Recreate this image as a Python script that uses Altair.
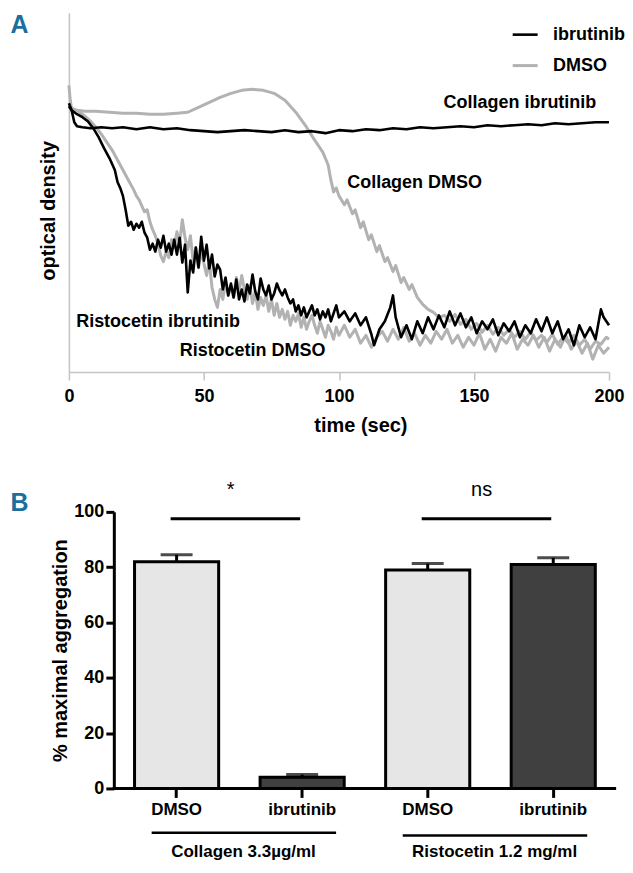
import altair as alt
import pandas as pd

FONT = "Liberation Sans, Arial, sans-serif"
LETTER_COLOR = "#1b6f9b"

# ---------------- Panel A: aggregation traces (arbitrary optical density units) ----------------
t_col_ibr = [0, 1, 2, 3, 5, 8, 12, 16, 20, 25, 30, 35, 40, 45, 50, 55, 60, 65, 70, 75, 80, 85, 90,
             95, 100, 105, 110, 115, 120, 125, 130, 135, 140, 145, 150, 155, 160, 165, 170, 175,
             180, 185, 190, 195, 200]
od_col_ibr = [270, 263, 251, 247, 246, 245, 246, 245, 246, 244, 246, 244, 245, 243, 242, 241, 242,
              243, 242, 241, 243, 241, 242, 240, 243, 242, 244, 243, 245, 244, 246, 245, 246, 247,
              246, 248, 247, 248, 249, 248, 250, 249, 250, 251, 251]

t_col_dmso = [0, 0.5, 1, 3, 6, 10, 15, 20, 25, 30, 35, 40, 44, 48, 52, 56, 60, 64, 68, 72, 76, 80,
              84, 88, 91, 94, 96, 97, 98, 99, 100, 102, 103, 105, 106, 108, 109, 111, 112, 114, 115,
              117, 118, 120, 121, 123, 124, 126, 127, 129, 131, 133, 135, 137, 139, 141, 143, 145,
              147, 149, 151, 153, 155, 157, 159, 161, 163, 165, 167, 169, 171, 173, 175, 177, 179,
              181, 183, 185, 187, 189, 191, 193, 195, 197, 199, 200]
od_col_dmso = [288, 273, 264, 263, 262, 262, 261, 260, 260, 259, 259, 260, 261, 266, 271, 276, 280,
               283, 284, 283, 280, 273, 261, 246, 233, 221, 208, 193, 181, 185, 177, 168, 173, 159,
               163, 145, 151, 133, 138, 121, 127, 111, 115, 101, 107, 90, 95, 83, 88, 75, 68, 63,
               60, 55, 57, 51, 58, 48, 53, 43, 49, 40, 47, 38, 45, 37, 43, 35, 41, 33, 40, 32, 37,
               30, 38, 28, 35, 29, 37, 27, 33, 23, 31, 28, 35, 33]

t_ris_ibr = [0, 1, 3, 5, 7, 9, 11, 13, 15, 17, 18, 19,
             20, 21, 22, 23, 24, 25, 26, 27, 28, 29,
             30, 31, 32, 33, 34, 35, 36, 37, 38, 39,
             40, 41, 42, 43, 44, 45, 46, 47, 48, 49,
             50, 51, 52, 53, 54, 55, 56, 57, 58, 59,
             60, 61, 62, 63, 64, 65, 66, 67, 68, 69,
             70, 71, 72, 73, 74, 75, 76, 77, 78, 79,
             80, 81, 82, 83, 84, 85, 86, 87, 88, 89,
             90, 91, 92, 93, 94, 95, 96, 97, 98, 99,
             100, 102, 104, 106, 108, 110, 112, 113, 115, 117, 119,
             120, 121, 123, 125, 127, 129, 131, 133, 135, 137, 139,
             141, 143, 145, 147, 149, 151, 153, 155, 157, 159,
             161, 163, 165, 167, 169, 171, 173, 175, 177, 179,
             181, 183, 185, 187, 189, 191, 193, 195, 197, 198, 200]
od_ris_ibr = [267, 263, 259, 256, 252, 245, 236, 225, 215, 203, 191, 185,
              177, 163, 147, 151, 143, 149, 145, 151, 140, 135,
              123, 129, 121, 133, 125, 137, 121, 129, 118, 133,
              118, 135, 110, 128, 80, 112, 100, 125, 105, 136,
              112, 128, 104, 118, 96, 108, 103, 83, 95, 77,
              89, 75, 93, 73, 83, 71, 88, 79, 98, 81,
              73, 94, 83, 77, 87, 73, 79, 89, 82, 77,
              83, 75, 69, 73, 61, 67, 57, 65, 55, 61,
              67, 57, 63, 53, 61, 55, 63, 51, 59, 67,
              55, 61, 51, 59, 47, 55, 38, 27, 43, 51, 65,
              77, 55, 35, 47, 33, 51, 39, 55, 43, 57, 45,
              61, 47, 59, 45, 55, 39, 51, 43, 53, 37,
              49, 41, 51, 35, 47, 39, 53, 41, 55, 39,
              51, 33, 43, 27, 47, 35, 45, 33, 63, 55, 47]

t_ris_dmso = [0, 2, 4, 6, 8, 10, 12, 14, 16, 18, 20, 22, 24,
              25, 26, 27, 28, 29, 30, 31, 32, 33, 34, 35, 36, 37, 38, 39,
              40, 41, 42, 43, 44, 45, 46, 47, 48, 49,
              50, 51, 52, 53, 54, 55, 56, 57, 58, 59,
              60, 61, 62, 63, 64, 65, 66, 67, 68, 69,
              70, 71, 72, 73, 74, 75, 76, 77, 78, 79,
              80, 81, 82, 83, 84, 85, 86, 87, 88, 89,
              90, 91, 92, 93, 94, 95, 96, 97, 98, 99,
              100, 102, 104, 106, 108, 110, 112, 114, 116, 118,
              120, 122, 124, 126, 128, 130, 132, 134, 136, 138,
              140, 142, 144, 146, 148, 150, 152, 154, 156, 158,
              160, 162, 164, 166, 168, 170, 172, 174, 176, 178,
              180, 182, 184, 186, 188, 190, 192, 194, 196, 198, 200]
od_ris_dmso = [267, 264, 261, 257, 252, 246, 239, 231, 223, 213, 203, 193, 183,
               177, 173, 167, 161, 163, 151, 143, 137, 129, 117, 111, 121, 115, 133, 125,
               141, 129, 153, 135, 123, 137, 111, 125, 105, 123,
               109, 97, 111, 85, 73, 65, 83, 73, 91, 77,
               87, 75, 95, 81, 97, 83, 73, 87, 69, 81,
               63, 75, 67, 77, 61, 73, 57, 69, 55, 63,
               53, 61, 47, 57, 51, 59, 45, 55, 43, 51,
               57, 47, 39, 51, 43, 35, 47, 41, 33, 45,
               37, 47, 35, 43, 29, 37, 25, 35, 41, 31,
               43, 33, 45, 31, 39, 27, 37, 29, 41, 33,
               43, 29, 37, 25, 35, 27, 39, 23, 33, 21,
               35, 29, 39, 23, 33, 27, 37, 25, 35, 21,
               33, 25, 37, 23, 31, 19, 29, 13, 27, 19, 25]

traces = [
    ("Collagen DMSO", "DMSO", t_col_dmso, od_col_dmso),
    ("Ristocetin DMSO", "DMSO", t_ris_dmso, od_ris_dmso),
    ("Collagen ibrutinib", "ibrutinib", t_col_ibr, od_col_ibr),
    ("Ristocetin ibrutinib", "ibrutinib", t_ris_ibr, od_ris_ibr),
]
dfA = pd.concat(
    [pd.DataFrame({"t": t, "od": od, "trace": name, "treatment": trt}) for name, trt, t, od in traces],
    ignore_index=True,
)

# trace annotations (time, od)
ann_text = ["Collagen ibrutinib", "Collagen DMSO", "Ristocetin ibrutinib", "Ristocetin DMSO"]
ann_t = [167, 128, 33, 68]
ann_od = [270, 190, 50, 21]
dfAnn = pd.DataFrame({"label": ann_text, "t": ann_t, "od": ann_od})

xA = alt.X("t:Q", scale=alt.Scale(domain=[0, 200], nice=False),
           axis=alt.Axis(values=[0, 50, 100, 150, 200], title="time (sec)", grid=False,
                         domainColor="#c4c4c4", domainWidth=1.5, tickColor="#c4c4c4",
                         tickWidth=1.5, tickSize=8, labelFont=FONT, labelFontSize=18,
                         labelFontWeight="bold", labelColor="black", labelPadding=7,
                         labelFlush=False, titleFont=FONT, titleFontSize=20,
                         titleFontWeight="bold", titleColor="black", titleX=292, titleY=59,
                         titleBaseline="alphabetic"))
yA = alt.Y("od:Q", scale=alt.Scale(domain=[0, 361], nice=False),
           axis=alt.Axis(title="optical density", labels=False, ticks=False, grid=False,
                         domainColor="#c4c4c4", domainWidth=1.5, titleFont=FONT,
                         titleFontSize=20, titleFontWeight="bold", titleColor="black",
                         titleX=-20, titleY=198, titleAngle=270, titleBaseline="middle"))

linesA = alt.Chart(dfA).mark_line(strokeJoin="round").encode(
    x=xA,
    y=yA,
    color=alt.Color("treatment:N",
                    scale=alt.Scale(domain=["ibrutinib", "DMSO"], range=["#000000", "#b2b2b2"]),
                    legend=alt.Legend(orient="none", legendX=443, legendY=8, title=None,
                                      symbolType="stroke", symbolSize=625, symbolStrokeWidth=3,
                                      labelFont=FONT, labelFontSize=18, labelFontWeight="bold",
                                      labelColor="black", rowPadding=8, padding=0,
                                      labelOffset=14)),
    strokeWidth=alt.StrokeWidth("treatment:N",
                                scale=alt.Scale(domain=["ibrutinib", "DMSO"], range=[2.6, 3.0]),
                                legend=None),
    detail="trace:N",
)

annA = alt.Chart(dfAnn).mark_text(font=FONT, fontSize=18, fontWeight="bold", color="black",
                                  align="center", baseline="middle").encode(
    x=alt.X("t:Q"), y=alt.Y("od:Q"), text="label:N")

letterA = alt.Chart(pd.DataFrame({"letter": ["A"]})).mark_text(
    font=FONT, fontSize=25, fontWeight="bold", color=LETTER_COLOR, align="center",
    baseline="top").encode(x=alt.value(-49.5), y=alt.value(0), text="letter:N")

panelA = alt.layer(linesA, annA, letterA).properties(width=541, height=360)

# ---------------- Panel B: bar chart ----------------
cats = ["Collagen|DMSO", "Collagen|ibrutinib", "Ristocetin|DMSO", "Ristocetin|ibrutinib"]
mean_agg = [82, 4, 79, 81]
sem_agg = [2.5, 1.0, 2.3, 2.4]
bar_fill = ["#e6e6e6", "#404040", "#e6e6e6", "#404040"]

dfB = pd.DataFrame({"cat": cats, "mean": mean_agg, "sem": sem_agg, "fill": bar_fill})
dfB["hi"] = dfB["mean"] + dfB["sem"]

groups = ["Collagen 3.3\u00b5g/ml", "Ristocetin 1.2 mg/ml"]
group_first = ["Collagen|DMSO", "Ristocetin|DMSO"]
group_last = ["Collagen|ibrutinib", "Ristocetin|ibrutinib"]
sig_text = ["*", "ns"]
sig_line_y = [97.5, 97.5]
sig_text_y = [108, 108]
underline_y = [-16, -17]
group_label_y = [-23, -23]
dfG = pd.DataFrame({"group": groups, "first": group_first, "last": group_last, "sig": sig_text,
                    "sy": sig_line_y, "ty": sig_text_y, "uy": underline_y, "gy": group_label_y})

# x-axis baseline spans from the first to the last category (value 0)
dfAxis = pd.DataFrame({"first": [cats[0]], "last": [cats[-1]], "zero": [0]})

B_SHIFT = 45  # panel B's axes start further right than panel A's
B_WIDTH = 548
xscaleB = alt.Scale(domain=cats, paddingInner=0.33, paddingOuter=0.165, range=[B_SHIFT, B_WIDTH])
xB = alt.X("cat:N", scale=xscaleB, sort=cats,
           axis=alt.Axis(title=None, labelExpr="split(datum.label, '|')[1]", labelAngle=0,
                         domain=False, tickColor="black", tickWidth=3,
                         tickSize=9, labelFont=FONT, labelFontSize=17, labelFontWeight="bold",
                         labelColor="black", labelPadding=4))
yscaleB = alt.Scale(domain=[0, 100], nice=False)
yB = alt.Y("mean:Q", scale=yscaleB,
           axis=alt.Axis(values=[0, 20, 40, 60, 80, 100], title="% maximal aggregation",
                         offset=-B_SHIFT, grid=False, domainColor="black", domainWidth=3,
                         tickColor="black", tickWidth=3, tickSize=8, labelFont=FONT,
                         labelFontSize=18, labelFontWeight="bold", labelColor="black",
                         labelPadding=2, titleFont=FONT, titleFontSize=20, titleFontWeight="bold",
                         titleColor="black", titleX=-53, titleY=138.5, titleAngle=270,
                         titleBaseline="middle"))

bars = alt.Chart(dfB).mark_bar(stroke="black", strokeWidth=3).encode(
    x=xB, y=yB, fill=alt.Fill("fill:N", scale=None))
axis_line = alt.Chart(dfAxis).mark_rule(color="black", strokeWidth=3, xOffset=-64,
                                        x2Offset=63).encode(
    x=alt.X("first:N", scale=xscaleB, sort=cats), x2="last:N",
    y=alt.Y("zero:Q", scale=yscaleB))
err = alt.Chart(dfB).mark_rule(color="black", strokeWidth=3).encode(
    x=alt.X("cat:N", scale=xscaleB, sort=cats), y=alt.Y("mean:Q", scale=yscaleB), y2="hi:Q")
caps = alt.Chart(dfB).mark_tick(color="black", size=32, thickness=3).encode(
    x=alt.X("cat:N", scale=xscaleB, sort=cats), y=alt.Y("hi:Q", scale=yscaleB))

sig_lines = alt.Chart(dfG).mark_rule(color="black", strokeWidth=3, xOffset=-6, x2Offset=-2).encode(
    x=alt.X("first:N", scale=xscaleB, sort=cats), x2="last:N",
    y=alt.Y("sy:Q", scale=yscaleB))
sig_texts = alt.Chart(dfG).mark_text(font=FONT, fontSize=20, color="black", dx=54,
                                     baseline="middle").encode(
    x=alt.X("first:N", scale=xscaleB, sort=cats), y=alt.Y("ty:Q", scale=yscaleB), text="sig:N")
under_lines = alt.Chart(dfG).mark_rule(color="black", strokeWidth=2.5, xOffset=-25,
                                       x2Offset=34).encode(
    x=alt.X("first:N", scale=xscaleB, sort=cats), x2="last:N",
    y=alt.Y("uy:Q", scale=yscaleB))
group_labels = alt.Chart(dfG).mark_text(font=FONT, fontSize=17, fontWeight="bold", color="black",
                                        dx=67, baseline="middle").encode(
    x=alt.X("first:N", scale=xscaleB, sort=cats), y=alt.Y("gy:Q", scale=yscaleB),
    text="group:N")

letterB = alt.Chart(pd.DataFrame({"letter": ["B"]})).mark_text(
    font=FONT, fontSize=25, fontWeight="bold", color=LETTER_COLOR, align="center",
    baseline="top").encode(x=alt.value(-49.5), y=alt.value(-21), text="letter:N")

panelB = alt.layer(bars, axis_line, err, caps, sig_lines, sig_texts, under_lines, group_labels,
                   letterB).properties(width=B_WIDTH, height=277)

chart = alt.vconcat(panelA, panelB, spacing=44).properties(
    padding={"left": 2, "top": 4, "right": 0, "bottom": 0}
).configure_view(stroke=None)

chart.save("out.html", embed_options={"renderer": "svg", "actions": False})
